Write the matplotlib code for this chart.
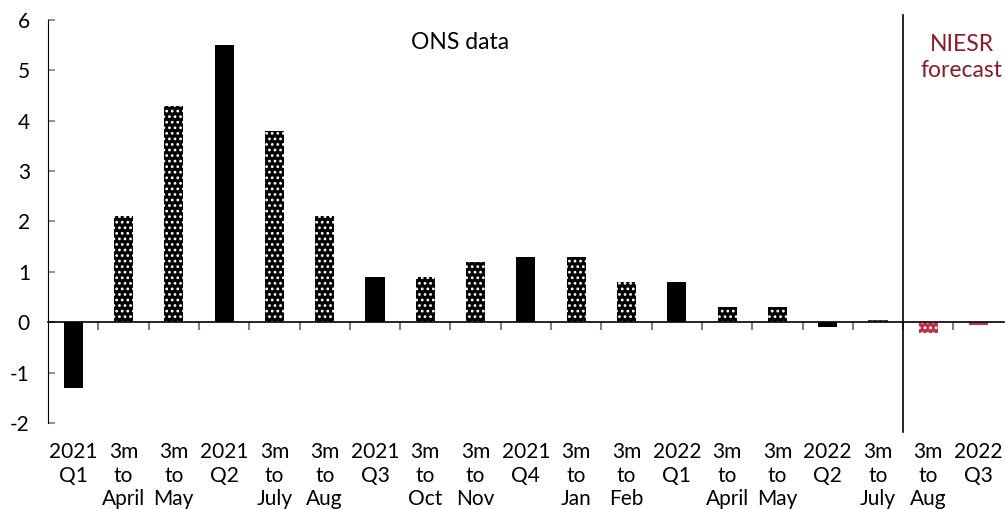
import numpy as np
import matplotlib
matplotlib.use("Agg")
import matplotlib.pyplot as plt
from matplotlib.transforms import blended_transform_factory

# ---------------------------------------------------------------
# DATA
# ---------------------------------------------------------------
labels = [
    "2021\nQ1", "3m\nto\nApril", "3m\nto\nMay", "2021\nQ2", "3m\nto\nJuly",
    "3m\nto\nAug", "2021\nQ3", "3m\nto\nOct", "3m\nto\nNov", "2021\nQ4",
    "3m\nto\nJan", "3m\nto\nFeb", "2022\nQ1", "3m\nto\nApril", "3m\nto\nMay",
    "2022\nQ2", "3m\nto\nJuly", "3m\nto\nAug", "2022\nQ3",
]
values = [-1.3, 2.1, 4.3, 5.5, 3.8, 2.1, 0.9, 0.9, 1.2, 1.3, 1.3, 0.8, 0.8,
          0.3, 0.3, -0.1, 0.05, -0.22, -0.05]
is_monthly = [l.startswith("3m") for l in labels]
is_forecast = [False] * 17 + [True] * 2

BLACK = "#000000"
RED = "#C0304A"
DARKRED = "#8B1A2B"

plt.rcParams["font.family"] = ["Lato", "DejaVu Sans"]
plt.rcParams["hatch.linewidth"] = 1.2

fig = plt.figure(figsize=(10.05, 5.09), dpi=100)
ax = fig.add_axes([0.0478, 0.169, 0.951, 0.7917])

x = np.arange(len(values))
for xi, v, m, f in zip(x, values, is_monthly, is_forecast):
    color = RED if f else BLACK
    if xi == 16:
        color = "#3a3a3a"
    if m:
        ax.bar(xi, v, width=0.38, color=color, edgecolor="white",
               linewidth=0, hatch="...")
    else:
        ax.bar(xi, v, width=0.38, color=color, linewidth=0)

ax.set_xlim(-0.5, len(values) - 0.5)
ax.set_ylim(-2, 6)
ax.set_yticks(range(-2, 7))
ax.set_yticklabels([str(t) for t in range(-2, 7)], fontsize=15)
ax.tick_params(axis="y", direction="in", length=5, color="#808080",
               width=1.2, pad=13)
ax.spines["left"].set_color(BLACK)

# x axis at zero with boundary ticks
ax.spines["top"].set_visible(False)
ax.spines["right"].set_visible(False)
ax.spines["bottom"].set_position(("data", 0))
ax.spines["bottom"].set_linewidth(1.2)
ax.set_xticks(x)
ax.set_xticklabels([])
ax.tick_params(axis="x", which="major", length=0)
ax.set_xticks(np.arange(0.5, len(values) - 0.5, 1), minor=True)
ax.tick_params(axis="x", which="minor", direction="out", length=6,
               color="#808080", width=1.5)

# category labels at bottom
sec = ax.secondary_xaxis(0)
sec.set_xticks(x)
sec.set_xticklabels(labels, fontsize=15, linespacing=1.22, va="top")
sec.tick_params(length=0, pad=14)
sec.spines["bottom"].set_visible(False)

# forecast divider
trans = blended_transform_factory(ax.transData, ax.transAxes)
ax.plot([16.5, 16.5], [-0.022, 1.012], color=BLACK, lw=1.2,
        transform=trans, clip_on=False)

ax.text(7.7, 0.945, "ONS data", transform=trans, ha="center", va="center",
        fontsize=16.5)
ax.text(17.66, 0.906, "NIESR\nforecast", transform=trans, ha="center",
        va="center", fontsize=16.5, color=DARKRED, linespacing=1.3)

fig.savefig("out.png", dpi=100)
